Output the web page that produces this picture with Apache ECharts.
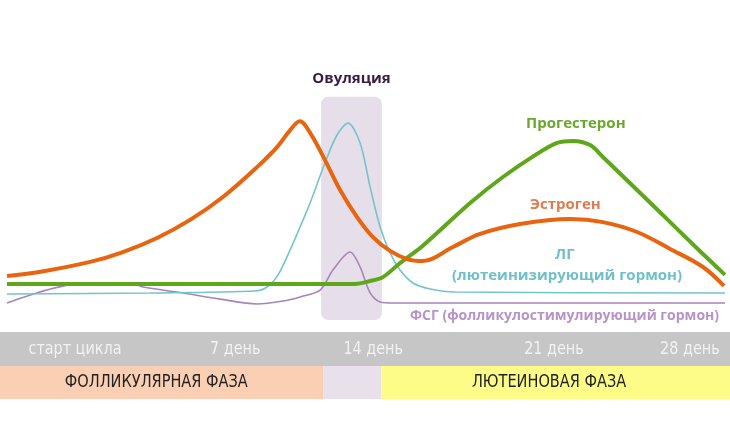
<!DOCTYPE html>
<html><head><meta charset="utf-8">
<script src="https://cdn.jsdelivr.net/npm/echarts@6/dist/echarts.min.js"></script>
<style>html,body{margin:0;padding:0;background:#fff}#c{width:730px;height:440px}</style>
</head><body><div id="c"></div>
<script>
// Day of cycle (x) and relative hormone level (y, 0-100)
const estrogenDays  = [0,1.48,3.24,4.52,5.85,7.14,8.42,9.75,10.53,11.02,11.42,11.85,12.40,12.99,13.65,14.27,14.94,15.60,16.22,17.39,18.45,20.01,21.96,23.24,24.57,25.86,27.14,27.96];
const estrogenLevel = [20.0,22.3,26.4,30.9,37.3,45.5,55.9,69.5,78.6,86.0,90.3,84.5,72.7,59.1,46.8,37.7,31.4,27.7,26.8,33.2,39.1,43.6,45.9,44.5,40.0,32.3,24.1,15.5];

const progDays  = [0,7.53,13.57,14.16,14.66,15.33,16.11,16.77,18.06,19.34,20.67,21.45,22.07,22.74,23.24,24.57,25.86,27.14,28.0];
const progLevel = [16.4,16.4,16.4,17.7,19.5,25.9,32.7,39.5,53.2,65.0,75.5,80.5,81.4,79.5,74.1,59.1,44.5,30.0,20.5];

const lhDays  = [0,5.58,9.67,10.14,10.57,11.04,11.43,11.82,12.40,12.87,13.30,13.77,14.16,14.55,14.94,15.33,15.83,16.50,17.47,28.0];
const lhLevel = [11.8,12.3,13.2,15.0,20.5,31.8,42.3,53.2,71.4,84.1,89.5,80.5,60.5,42.3,30.5,22.7,16.8,14.1,12.7,12.3];

const fshDays  = [0,2.85,4.91,5.30,6.86,8.31,9.75,10.76,11.43,12.21,12.71,13.38,13.77,14.16,14.55,15.13,28.0];
const fshLevel = [7.7,16.4,16.4,15.0,12.3,9.5,7.3,8.6,10.5,13.6,22.7,30.9,24.1,12.3,8.2,7.7,7.7];

const dayTickLabels = ['старт цикла','7 день','14 день','21 день','28 день'];
const dayTickDays   = [2.65, 8.9, 14.28, 21.33, 26.63];

const phaseNames = ['ФОЛЛИКУЛЯРНАЯ ФАЗА', '', 'ЛЮТЕИНОВАЯ ФАЗА'];
const phaseStart = [-0.3, 12.33, 14.6];
const phaseEnd   = [12.33, 14.6, 28.3];

const ovulationWindow = [12.25, 14.62];
const ovulationTitle = 'Овуляция';

const seriesNames = ['Прогестерон','Эстроген','ЛГ','(лютеинизирующий гормон)','ФСГ (фолликулостимулирующий гормон)'];

const pairs = (xs, ys) => xs.map((x, i) => [x, ys[i]]);
const phaseColors = ['#fbcfb3', '#e8e0eb', '#fdfc86'];
const narrow = '"Liberation Sans Narrow", "DejaVu Sans Condensed", sans-serif';

const chart = echarts.init(document.getElementById('c'));
chart.setOption({
  animation: false,
  grid: { left: 7, right: 5, top: 100, bottom: 120 },
  xAxis: { type: 'value', min: 0, max: 28, show: false },
  yAxis: { type: 'value', min: 0, max: 100, show: false },
  series: [
    { // ovulation window
      type: 'custom', clip: false, z: 1, silent: true,
      data: [[ovulationWindow[0], ovulationWindow[1]]],
      renderItem: function (params, api) {
        const a = api.coord([api.value(0), 101.5]);
        const b = api.coord([api.value(1), 0]);
        return { type: 'group', children: [
          { type: 'rect', shape: { x: a[0], y: a[1], width: b[0] - a[0], height: b[1] - a[1], r: 7 },
            style: { fill: '#e6dfea' } },
          { type: 'text', style: { text: ovulationTitle, x: (a[0] + b[0]) / 2, y: a[1] - 18,
              align: 'center', verticalAlign: 'middle', fill: '#3b1c47',
              font: 'bold 15px "Open Sans", sans-serif' } }
        ] };
      }
    },
    { // phase bands
      type: 'custom', clip: false, z: 1, silent: true,
      data: phaseNames.map((n, i) => [phaseStart[i], phaseEnd[i], i]),
      renderItem: function (params, api) {
        const i = api.value(2);
        const a = api.coord([api.value(0), 0]);
        const b = api.coord([api.value(1), 0]);
        const base = a[1];
        const children = [
          { type: 'rect', shape: { x: a[0], y: base + 46, width: b[0] - a[0], height: 33 }, style: { fill: phaseColors[i] } }
        ];
        if (i === 0) {
          const full = api.coord([phaseEnd[phaseEnd.length - 1], 0]);
          children.push({ type: 'rect', shape: { x: a[0], y: base + 12, width: full[0] - a[0], height: 34 }, style: { fill: '#c6c6c6' } });
        }
        if (phaseNames[i]) children.push({ type: 'text', x: (a[0] + b[0]) / 2 + (i === 0 ? -5 : -8), y: base + 63, scaleX: 0.95,
          style: { text: phaseNames[i], x: 0, y: 0,
          align: 'center', verticalAlign: 'middle', fill: '#222222', font: '17px ' + narrow } });
        return { type: 'group', children: children };
      }
    },
    { // day tick labels
      type: 'custom', clip: false, z: 3, silent: true,
      data: dayTickDays.map((d, i) => [d, i]),
      renderItem: function (params, api) {
        const p = api.coord([api.value(0), 0]);
        return { type: 'text', x: p[0], y: p[1] + 30, scaleX: 0.94,
          style: { text: dayTickLabels[api.value(1)], x: 0, y: 0,
          align: 'center', verticalAlign: 'middle', fill: '#f2f2f2', font: '17px ' + narrow } };
      }
    },
    { name: 'ФСГ', type: 'line', z: 4, data: pairs(fshDays, fshLevel), smooth: 0.3, symbol: 'none',
      lineStyle: { color: '#a784ba', width: 1.6 } },
    { name: 'ЛГ', type: 'line', z: 4, data: pairs(lhDays, lhLevel), smooth: 0.3, symbol: 'none',
      lineStyle: { color: '#74c4cd', width: 1.6 } },
    { name: 'Прогестерон', type: 'line', z: 5, data: pairs(progDays, progLevel), smooth: 0.3, symbol: 'none',
      lineStyle: { color: '#5ea61a', width: 4 } },
    { name: 'Эстроген', type: 'line', z: 6, data: pairs(estrogenDays, estrogenLevel), smooth: 0.35, symbol: 'none',
      lineStyle: { color: '#e8640f', width: 4 } }
  ],
  graphic: [
    { type: 'text', left: 526, top: 116, style: { text: seriesNames[0], fill: '#6aa72a', font: 'bold 15px "Open Sans", sans-serif' } },
    { type: 'text', left: 530, top: 197, style: { text: seriesNames[1], fill: '#e07b4e', font: 'bold 15px "Open Sans", sans-serif' } },
    { type: 'text', left: 555, top: 247, style: { text: seriesNames[2], fill: '#6fc0cb', font: 'bold 15px "Open Sans", sans-serif' } },
    { type: 'text', left: 452, top: 268, style: { text: seriesNames[3], fill: '#6fc0cb', font: 'bold 15px "Open Sans", sans-serif' } },
    { type: 'text', left: 410, top: 309, style: { text: seriesNames[4], fill: '#b893c8', font: 'bold 14px "Open Sans", sans-serif' } }
  ]
});
</script></body></html>
